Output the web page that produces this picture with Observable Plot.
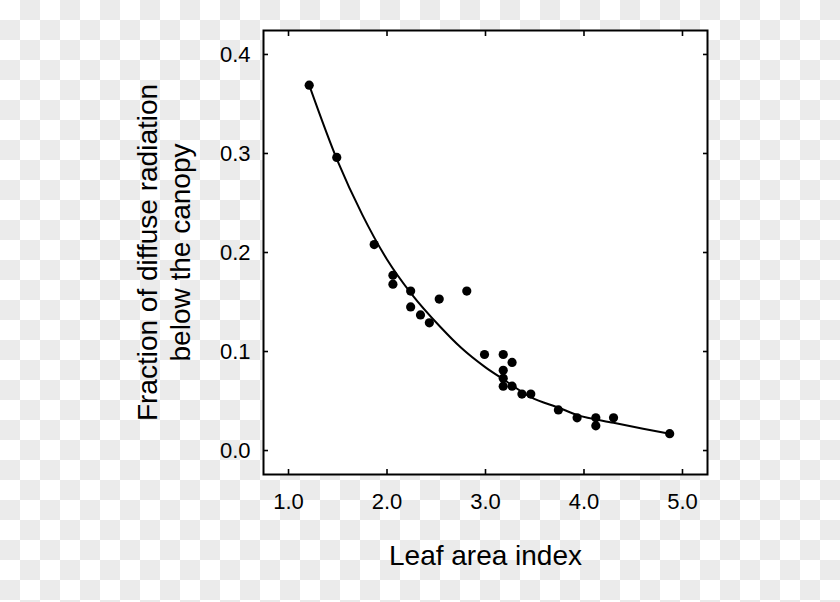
<!DOCTYPE html>
<html>
<head>
<meta charset="utf-8">
<script src="https://cdn.jsdelivr.net/npm/d3@7"></script>
<script src="https://cdn.jsdelivr.net/npm/@observablehq/plot@0.6"></script>
<style>
  html, body { margin: 0; padding: 0; }
  body {
    width: 840px; height: 602px;
    background: repeating-conic-gradient(#ebebeb 0 25%, #ffffff 0 50%) 0 0 / 40px 40px;
    font-family: "Liberation Sans", Arial, sans-serif;
  }
</style>
</head>
<body>
<div id="chart"></div>
<script>
// Observed data points: leaf area index vs fraction of diffuse radiation below canopy
const lai = [1.21, 1.49, 1.87, 2.06, 2.06, 2.24, 2.24, 2.34, 2.43, 2.53, 2.81, 2.99, 3.18, 3.18, 3.18, 3.18, 3.27, 3.27, 3.37, 3.46, 3.74, 3.93, 4.12, 4.12, 4.30, 4.87];
const fraction = [0.369, 0.296, 0.208, 0.177, 0.168, 0.161, 0.145, 0.137, 0.129, 0.153, 0.161, 0.097, 0.097, 0.081, 0.073, 0.065, 0.089, 0.065, 0.057, 0.057, 0.041, 0.033, 0.033, 0.025, 0.033, 0.017];

// Fitted curve
const fitLai = [1.21, 1.5, 1.75, 2.0, 2.25, 2.54, 2.75, 3.0, 3.18, 3.46, 3.75, 3.93, 4.3, 4.6, 4.87];
const fitFraction = [0.369, 0.292, 0.238, 0.193, 0.158, 0.125, 0.104, 0.084, 0.072, 0.054, 0.043, 0.036, 0.028, 0.022, 0.017];

const xTicks = [1, 2, 3, 4, 5];
const yTicks = [0, 0.1, 0.2, 0.3, 0.4];
const xTitle = "Leaf area index";
const yTitle = "Fraction of diffuse radiation\nbelow the canopy";

const points = lai.map((x, i) => ({x, y: fraction[i]}));
const fit = fitLai.map((x, i) => ({x, y: fitFraction[i]}));

const chart = Plot.plot({
  width: 840,
  height: 602,
  marginLeft: 263,
  marginRight: 133,
  marginTop: 30,
  marginBottom: 128,
  style: {background: "transparent", fontFamily: "'Liberation Sans', Arial, sans-serif", color: "black"},
  x: {domain: [0.746, 5.254]},
  y: {domain: [-0.0242, 0.4242]},
  marks: [
    Plot.frame({fill: "white", stroke: null}),
    Plot.axisX(xTicks, {anchor: "bottom", tickSize: -5, tickPadding: 24, tickFormat: d3.format(".1f"), fontSize: 22, strokeWidth: 1.6, label: null}),
    Plot.axisX(xTicks, {anchor: "top", tickSize: -5, tickFormat: () => "", strokeWidth: 1.6, label: null}),
    Plot.axisY(yTicks, {anchor: "left", tickSize: -5, tickPadding: 18, tickFormat: d3.format(".1f"), fontSize: 22, strokeWidth: 1.6, label: null}),
    Plot.axisY(yTicks, {anchor: "right", tickSize: -5, tickFormat: () => "", strokeWidth: 1.6, label: null}),
    Plot.line(fit, {x: "x", y: "y", curve: "monotone-x", stroke: "black", strokeWidth: 2}),
    Plot.dot(points, {x: "x", y: "y", r: 4.6, fill: "black", stroke: null}),
    Plot.frame({stroke: "black", strokeWidth: 2}),
    Plot.text([xTitle], {frameAnchor: "bottom", lineAnchor: "middle", dy: 82, fontSize: 28, fill: "black"}),
    Plot.text([yTitle], {frameAnchor: "left", textAnchor: "middle", rotate: -90, lineAnchor: "middle", lineHeight: 1.18, dx: -101, fontSize: 28, fill: "black"})
  ]
});
document.getElementById("chart").appendChild(chart);
</script>
</body>
</html>
